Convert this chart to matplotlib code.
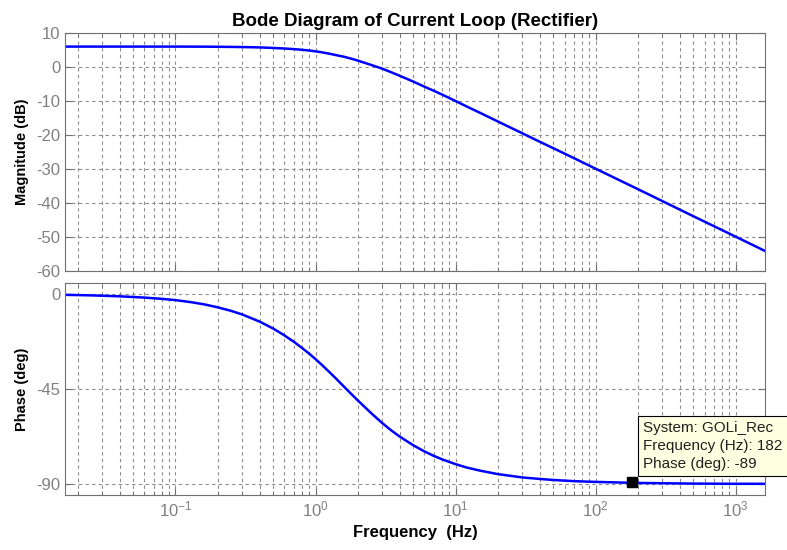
import matplotlib.pyplot as plt
from matplotlib.ticker import LogLocator, NullFormatter

# Values
freq_hz = [0.0163, 0.025, 0.04, 0.06, 0.08, 0.1, 0.13, 0.16, 0.2, 0.25, 0.3,
           0.4, 0.5, 0.6, 0.7, 0.8, 0.9, 1.0, 1.1, 1.25, 1.4, 1.6, 1.8, 2.0,
           2.5, 3.0, 3.5, 4.0, 5.0, 6.0, 7.0, 8.0, 10, 12, 15, 20, 30, 40,
           50, 70, 100, 200, 500, 1000, 1620]
mag_db = [6.0, 6.0, 6.0, 6.0, 6.0, 6.0, 5.99, 5.98, 5.95, 5.91, 5.87,
          5.76, 5.6, 5.44, 5.26, 5.06, 4.85, 4.6, 4.35, 3.93, 3.5, 3.0, 2.45,
          1.9, 0.6, -0.5, -1.6, -2.6, -4.3, -5.8, -7.0, -8.1, -10.0, -11.6,
          -13.5, -16.0, -19.5, -22.0, -23.9, -26.8, -29.9, -35.9, -43.9,
          -49.9, -54.1]
phase_deg = [-0.5, -0.75, -1.2, -1.8, -2.4, -3.0, -4.0, -5.0, -6.4, -8.1,
             -9.8, -13.2, -16.5, -19.7, -22.7, -25.6, -28.3, -30.9, -33.4,
             -36.9, -40.1, -44.0, -47.4, -50.4, -56.5, -61.2, -64.8, -67.6,
             -71.7, -74.6, -76.7, -78.3, -80.6, -82.2, -83.7, -85.3, -86.9,
             -87.6, -88.1, -88.65, -89.0, -89.5, -89.8, -89.9, -89.9]

mag_ticks = [10, 0, -10, -20, -30, -40, -50, -60]
phase_ticks = [0, -45, -90]

tip_freq = 182
tip_phase = -89

plt.rcParams['font.family'] = ['Liberation Sans', 'DejaVu Sans']
plt.rcParams['axes.unicode_minus'] = False

fig = plt.figure(figsize=(7.87, 5.5), dpi=100)
ax1 = fig.add_axes([65 / 787, 1 - 271 / 550, 700 / 787, 238 / 550])
ax2 = fig.add_axes([65 / 787, 1 - 495 / 550, 700 / 787, 212 / 550])

xmin, xmax = 10 ** -1.789, 10 ** 3.21

for ax in (ax1, ax2):
    ax.set_xscale('log')
    ax.set_xlim(xmin, xmax)
    ax.xaxis.set_major_locator(LogLocator(base=10, numticks=20))
    ax.xaxis.set_minor_locator(LogLocator(base=10, subs=range(2, 10), numticks=20))
    ax.xaxis.set_minor_formatter(NullFormatter())
    ax.grid(True, which='major', axis='both', color='#8c8c8c', linestyle=(0, (3, 3)), linewidth=0.8)
    ax.grid(True, which='minor', axis='x', color='#8c8c8c', linestyle=(0, (3, 3)), linewidth=0.8)
    ax.tick_params(which='both', direction='in', top=True, right=True,
                   colors='#707070', labelcolor='#808080', labelsize=12)
    ax.tick_params(which='major', length=5)
    ax.tick_params(which='minor', length=3)
    for s in ax.spines.values():
        s.set_color('#707070')

ax1.plot(freq_hz, mag_db, color='blue', linewidth=1.8)
ax1.set_ylim(-60, 10)
ax1.set_yticks(mag_ticks)
ax1.tick_params(labelbottom=False)
ax1.set_ylabel('Magnitude (dB)', fontsize=10.5, fontweight='bold')
ax1.set_title('Bode Diagram of Current Loop (Rectifier)', fontsize=13.5,
              fontweight='bold', pad=5)

ax2.plot(freq_hz, phase_deg, color='blue', linewidth=1.8)
ax2.set_ylim(-95.2, 5.1)
ax2.set_yticks(phase_ticks)
ax2.set_ylabel('Phase (deg)', fontsize=10.5, fontweight='bold')
ax2.set_xlabel('Frequency  (Hz)', fontsize=12, fontweight='bold')

ax1.yaxis.set_label_coords(-0.051, 0.5)
ax2.yaxis.set_label_coords(-0.051, 0.5)

# data tip
ax2.plot([tip_freq], [tip_phase], marker='s', color='black', markersize=7, zorder=5)
ax2.annotate('System: GOLi_Rec\nFrequency (Hz): %d\nPhase (deg): %d' % (tip_freq, tip_phase),
             xy=(tip_freq, tip_phase), xytext=(8, 8), textcoords='offset points',
             fontsize=11, va='bottom', ha='left', color='#202020', linespacing=1.35,
             annotation_clip=False, zorder=6,
             bbox=dict(boxstyle='square,pad=0.35', fc='#ffffe1', ec='black', lw=0.8))

fig.savefig('out.png', dpi=100)
